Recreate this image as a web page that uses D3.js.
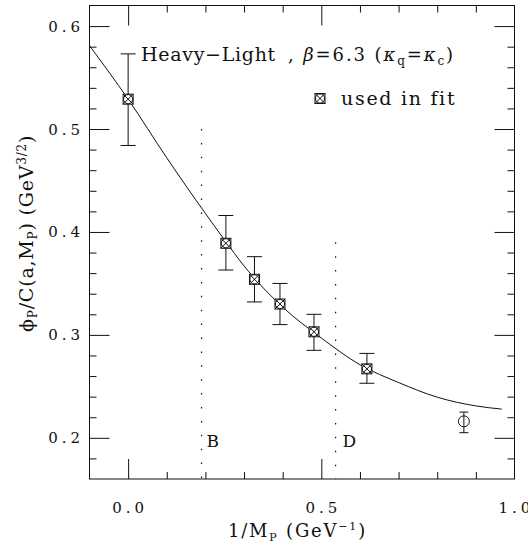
<!DOCTYPE html>
<html>
<head>
<meta charset="utf-8">
<script src="https://cdn.jsdelivr.net/npm/d3@7/dist/d3.min.js"></script>
<style>
  html, body { margin: 0; padding: 0; background: #fff; }
  svg text { font-family: "DejaVu Serif", serif; fill: #111; }
</style>
</head>
<body>
<svg id="chart" width="528" height="544"></svg>
<script>
// ---- data ----
const pointX   = [0.000, 0.253, 0.327, 0.393, 0.481, 0.618, 0.869];
const pointY   = [0.529, 0.389, 0.354, 0.330, 0.303, 0.267, 0.216];
const errLow   = [0.484, 0.363, 0.332, 0.310, 0.285, 0.253, 0.205];
const errHigh  = [0.573, 0.416, 0.376, 0.350, 0.320, 0.282, 0.225];
const usedInFit = [true, true, true, true, true, true, false];

const fitX = [-0.1, 0.0, 0.1, 0.2, 0.25, 0.3, 0.4, 0.5, 0.6, 0.7, 0.8, 0.9, 0.967];
const fitY = [0.581, 0.529, 0.472, 0.418, 0.392, 0.367, 0.327, 0.297, 0.271, 0.2537, 0.2395, 0.2310, 0.2279];

const refLabels = ["B", "D"];
const refX      = [0.19, 0.537];
const refTop    = [0.50, 0.39];

const xMajorTicks = [0.0, 0.5, 1.0];
const xMajorLabels = ["0.0", "0.5", "1.0"];
const xMinorTicks = [0.1, 0.2, 0.3, 0.4, 0.6, 0.7, 0.8, 0.9];
const yMajorTicks = [0.2, 0.3, 0.4, 0.5, 0.6];
const yMajorLabels = ["0.2", "0.3", "0.4", "0.5", "0.6"];
const yMinorTicks = [0.18, 0.22, 0.24, 0.26, 0.28, 0.32, 0.34, 0.36, 0.38, 0.42, 0.44, 0.46, 0.48, 0.52, 0.54, 0.56, 0.58];

// ---- layout ----
const svg = d3.select("#chart");
const L = 89.5, R = 514.5, T = 5.5, B = 479;
const x = d3.scaleLinear().domain([-0.1, 1.0]).range([L, R]);
const y = d3.scaleLinear().domain([0.16, 0.62]).range([B, T]);
const ink = "#111";

// frame
svg.append("rect").attr("x", L).attr("y", T).attr("width", R - L).attr("height", B - T)
  .attr("fill", "none").attr("stroke", ink).attr("stroke-width", 1);

function tickAxis(axisFn, scale, values, size, transform) {
  const g = svg.append("g").attr("transform", transform)
    .call(axisFn(scale).tickValues(values).tickSize(size).tickFormat(""));
  g.select(".domain").remove();
  g.selectAll("line").attr("stroke", ink).attr("stroke-width", 1);
  return g;
}
// bottom & top
tickAxis(d3.axisBottom, x, xMajorTicks.filter(v => v < 1), -20, `translate(0,${B})`);
tickAxis(d3.axisBottom, x, xMinorTicks, -7, `translate(0,${B})`);
tickAxis(d3.axisTop, x, xMajorTicks.filter(v => v < 1), -20, `translate(0,${T})`);
tickAxis(d3.axisTop, x, xMinorTicks, -7, `translate(0,${T})`);
// left & right
tickAxis(d3.axisLeft, y, yMajorTicks, -20, `translate(${L},0)`);
tickAxis(d3.axisLeft, y, yMinorTicks, -7, `translate(${L},0)`);
tickAxis(d3.axisRight, y, yMajorTicks, -20, `translate(${R},0)`);
tickAxis(d3.axisRight, y, yMinorTicks, -7, `translate(${R},0)`);

// tick labels
const LS = 4;
svg.append("g").selectAll("text").data(xMajorTicks).join("text")
  .attr("x", d => x(d) + LS / 2).attr("y", 513)
  .attr("text-anchor", "middle").attr("font-size", 15).attr("letter-spacing", LS)
  .text((d, i) => xMajorLabels[i]);
svg.append("g").selectAll("text").data(yMajorTicks).join("text")
  .attr("x", 80 + LS).attr("y", d => y(d) + 5.5)
  .attr("text-anchor", "end").attr("font-size", 15).attr("letter-spacing", LS)
  .text((d, i) => yMajorLabels[i]);

// reference dotted lines
svg.append("g").selectAll("line").data(refX).join("line")
  .attr("x1", d => x(d)).attr("x2", d => x(d))
  .attr("y1", (d, i) => y(refTop[i])).attr("y2", B)
  .attr("stroke", ink).attr("stroke-width", 1.2).attr("stroke-dasharray", "1.5,12.4");
svg.append("g").selectAll("text").data(refX).join("text")
  .attr("x", (d, i) => x(d) + (i === 0 ? 5 : 7)).attr("y", 446.5)
  .attr("font-size", 17).text((d, i) => refLabels[i]);

// fit curve
const pts = fitX.map((v, i) => [v, fitY[i]]);
svg.append("path").datum(pts)
  .attr("d", d3.line().x(d => x(d[0])).y(d => y(d[1])).curve(d3.curveMonotoneX))
  .attr("fill", "none").attr("stroke", ink).attr("stroke-width", 1);

// error bars
const eb = svg.append("g").attr("stroke", ink).attr("stroke-width", 1);
pointX.forEach((px, i) => {
  const cx = x(px), hw = usedInFit[i] ? 7.5 : 4.5;
  eb.append("line").attr("x1", cx).attr("x2", cx).attr("y1", y(errLow[i])).attr("y2", y(errHigh[i]));
  eb.append("line").attr("x1", cx - hw).attr("x2", cx + hw).attr("y1", y(errLow[i])).attr("y2", y(errLow[i]));
  eb.append("line").attr("x1", cx - hw).attr("x2", cx + hw).attr("y1", y(errHigh[i])).attr("y2", y(errHigh[i]));
});

// markers
function fitMarker(g, cx, cy, s) {
  const h = s / 2;
  g.append("rect").attr("x", cx - h).attr("y", cy - h).attr("width", s).attr("height", s)
    .attr("fill", "#fff").attr("stroke", ink).attr("stroke-width", 1);
  g.append("circle").attr("cx", cx).attr("cy", cy).attr("r", h * 0.92)
    .attr("fill", "none").attr("stroke", ink).attr("stroke-width", 1);
  g.append("path").attr("d", `M${cx - h},${cy - h}L${cx + h},${cy + h}M${cx - h},${cy + h}L${cx + h},${cy - h}`)
    .attr("stroke", ink).attr("stroke-width", 1);
}
const mk = svg.append("g");
pointX.forEach((px, i) => {
  if (usedInFit[i]) {
    fitMarker(mk, x(px), y(pointY[i]), 10);
  } else {
    mk.append("circle").attr("cx", x(px)).attr("cy", y(pointY[i])).attr("r", 5.5)
      .attr("fill", "none").attr("stroke", ink).attr("stroke-width", 1);
  }
});

// title
svg.append("text").attr("x", 141).attr("y", 61).attr("font-size", 19).attr("letter-spacing", 0.7)
  .text("Heavy\u2212Light");
const title = svg.append("text").attr("x", 288).attr("y", 61).attr("font-size", 18).attr("letter-spacing", 1.9);
title.append("tspan").text(", ");
title.append("tspan").attr("font-style", "italic").text("\u03b2");
title.append("tspan").text("=6.3 (");
title.append("tspan").attr("font-style", "italic").text("\u03ba");
title.append("tspan").attr("font-size", 12).attr("dy", 4).text("q");
title.append("tspan").attr("dy", -4).text("=");
title.append("tspan").attr("font-style", "italic").text("\u03ba");
title.append("tspan").attr("font-size", 12).attr("dy", 4).text("c");
title.append("tspan").attr("dy", -4).text(")");

// legend
fitMarker(svg.append("g"), 320, 98.5, 10);
svg.append("text").attr("x", 341).attr("y", 105).attr("font-size", 19).attr("letter-spacing", 1.7).text("used in fit");

// x label
const xl = svg.append("text").attr("x", 228).attr("y", 536.5).attr("font-size", 18).attr("letter-spacing", 1.8);
xl.append("tspan").text("1/M");
xl.append("tspan").attr("font-size", 11).attr("dy", 4).text("P");
xl.append("tspan").attr("dy", -4).text(" (GeV");
xl.append("tspan").attr("font-size", 11).attr("dy", -7).text("\u22121");
xl.append("tspan").attr("dy", 7).text(")");

// y label
const yl = svg.append("text").attr("transform", "translate(33,332) rotate(-90)")
  .attr("font-size", 19).attr("letter-spacing", 0.8);
yl.append("tspan").text("\u03d5");
yl.append("tspan").attr("font-size", 12).attr("dy", 4).text("P");
yl.append("tspan").attr("dy", -4).text("/C(a,M");
yl.append("tspan").attr("font-size", 12).attr("dy", 4).text("P");
yl.append("tspan").attr("dy", -4).text(") (GeV");
yl.append("tspan").attr("font-size", 12).attr("dy", -7).text("3/2");
yl.append("tspan").attr("dy", 7).text(")");
</script>
</body>
</html>
